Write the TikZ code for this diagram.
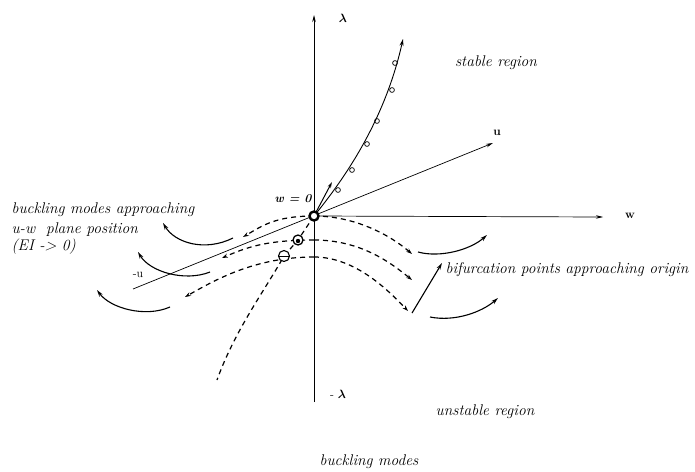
\documentclass[tikz,border=0pt]{standalone}
\usepackage{amsmath, amssymb, bm}
\usetikzlibrary{arrows.meta, positioning, calc}

\begin{document}
\begin{tikzpicture}[x=1pt,y=-1pt,
  axis/.style={line width=0.7pt,-{Stealth[length=7pt,width=3.5pt]}},
  mode/.style={line width=1.2pt,dash pattern=on 5pt off 4pt,-{Stealth[length=6pt,width=4pt]}},
  turn/.style={line width=1.1pt,-{Stealth[length=7pt,width=4pt]}},
  lab/.style={font=\fontsize{15.5}{17}\selectfont\itshape},
  sym/.style={font=\fontsize{12}{14}\selectfont}]
  \useasboundingbox (0,0) rectangle (695,471);
  \coordinate (O) at (314,216);
  \coordinate (lamtop) at (314,15);
  \coordinate (lambot) at (314,402);
  \coordinate (wtip) at (603,217);
  \coordinate (utip) at (493,143);
  \coordinate (mu) at (133,289);
  \coordinate (bif2) at (298,240);
  \coordinate (bif3) at (284,256);

  % axes
  \draw[axis] (lambot) -- (lamtop);
  \draw[axis] (O) -- (wtip);
  \draw[axis] (mu) -- (utip);
  \node[sym] (lam) at (343,18) {$\boldsymbol{\lambda}$};
  \node[sym] (mlam) at (338,394) {- $\boldsymbol{\lambda}$};
  \node[sym] (wlab) at (630,216) {\textbf{w}};
  \node[sym] (ulab) at (497,133) {\textbf{u}};
  \node[sym] (mulab) at (138,275) {-u};
  \node[sym,font=\fontsize{12}{14}\selectfont\bfseries\itshape] (wzero) at (293,199) {w = 0};

  % stable branch
  \draw[line width=0.9pt,-{Stealth[length=7pt,width=4pt]}] (O) .. controls (345,178) and (385,120) .. (403,39);
  \foreach \p in {(338,190),(352,170),(367,144),(377,121),(392,90),(395,63)}
    \draw[line width=0.7pt] \p circle (2.4pt);
  \draw[line width=1pt,-{Stealth[length=6pt,width=3.5pt]}] (O) -- (332,182);

  % unstable branch
  \draw[line width=1.2pt,dash pattern=on 5pt off 4pt] (O) -- (bif2) -- (bif3)
    .. controls (265,290) and (235,330) .. (217,380);

  % buckling modes
  \draw[mode] (O) .. controls (275,216) and (262,226) .. (243,237);
  \draw[mode] (O) .. controls (355,216) and (390,235) .. (412,254);
  \draw[mode] (314,240) .. controls (265,240) and (245,248) .. (222,258);
  \draw[mode] (314,240) .. controls (360,240) and (390,262) .. (412,280);
  \draw[mode] (314,257) .. controls (255,257) and (215,280) .. (185,297);
  \draw[mode] (314,257) .. controls (355,257) and (388,290) .. (408,311);

  % bifurcation points
  \draw[line width=2.4pt,fill=white] (O) circle (4.5pt);
  \draw[line width=1.3pt,fill=white] (bif2) circle (5pt);
  \fill (bif2) ++(0,1) circle (2.2pt);
  \draw[line width=1.1pt,fill=white] (bif3) circle (5.5pt);
  \draw[line width=1pt] ($(bif3)+(-5,0)$) -- ($(bif3)+(5,0)$);

  % rotation of the modes
  \draw[turn] (233,238) .. controls (205,252) and (175,243) .. (163,223);
  \draw[turn] (210,272) .. controls (185,282) and (150,272) .. (138,252);
  \draw[turn] (170,307) .. controls (145,318) and (110,308) .. (97,290);
  \draw[turn] (418,252) .. controls (440,258) and (470,250) .. (487,235);
  \draw[turn] (430,317) .. controls (455,322) and (482,312) .. (498,298);
  \draw[turn] (412,313) -- (442,263);

  % texts
  \node[lab] (stab) at (496,63) {stable region};
  \node[lab] (unstab) at (485,412) {unstable region};
  \node[lab,anchor=west] (bma) at (8,210) {buckling modes approaching};
  \node[lab,anchor=west] (uwp) at (8,230) {u-w\ \ plane position};
  \node[lab,anchor=west] (eil) at (8,247) {(EI -> 0)};
  \node[lab,anchor=west] (bpo) at (442,270) {bifurcation points approaching origin};
  \node[lab] (bm) at (369,462) {buckling modes};
\end{tikzpicture}
\end{document}
